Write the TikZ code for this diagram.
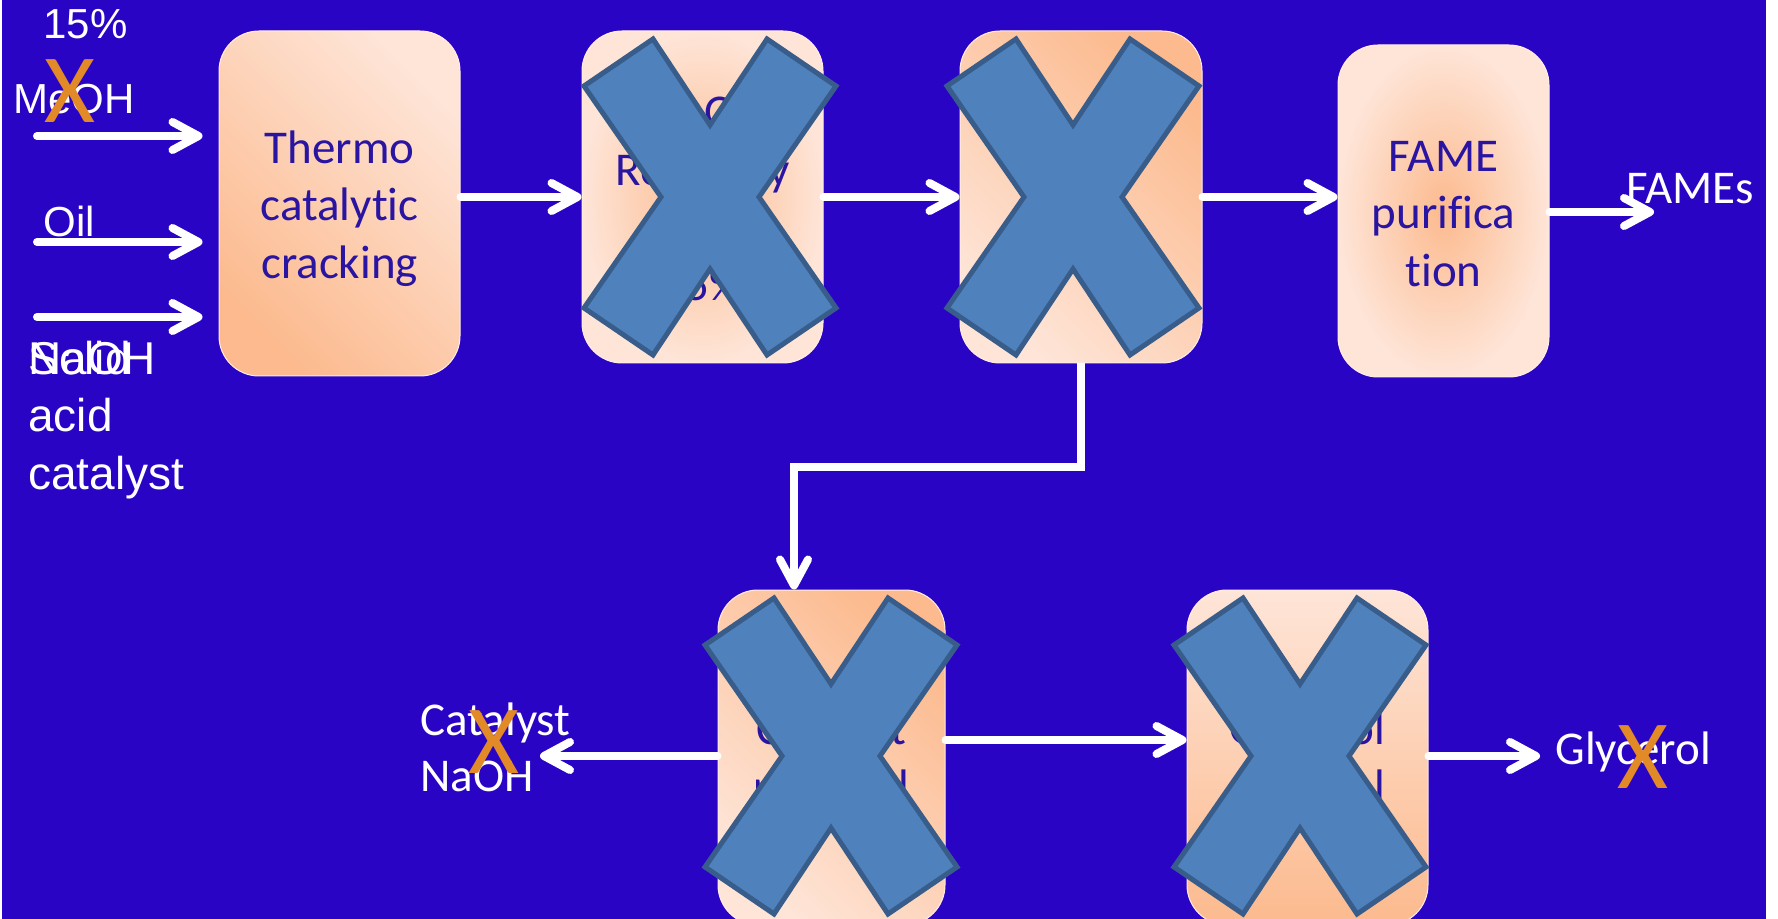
\documentclass[tikz,border=0pt]{standalone}
\usepackage{fontspec}
\setmainfont{Carlito}[Ligatures=NoCommon]
\newfontfamily\arialf{Liberation Sans}
\usetikzlibrary{arrows.meta}
\definecolor{bg}{HTML}{2A04C4}
\definecolor{pklight}{HTML}{FEE5D8}
\definecolor{pkdark}{HTML}{FCBA8E}
\definecolor{boxtxt}{HTML}{2A14A2}
\definecolor{xfill}{HTML}{4F81BD}
\definecolor{xline}{HTML}{385D8A}
\definecolor{xorange}{HTML}{E38A28}
\tikzset{
  procbox/.style={rounded corners=20pt, draw=pklight!70!white, line width=0.5pt, inner sep=0pt},
  boxtext/.style={text=boxtxt, font=\fontsize{23.5}{28.7}\selectfont, align=center, inner sep=0pt},
  arr/.style={draw=white, line width=4pt, line cap=round,
    -{Straight Barb[length=13pt,width=14pt,round]}},
  armlabel/.style={text=white, font=\arialf\fontsize{21}{25}\selectfont, anchor=base west, inner sep=0pt},
  armlabelb/.style={text=white, font=\arialf\fontsize{23}{28}\selectfont, anchor=base west, inner sep=0pt},
  calabel/.style={text=white, font=\fontsize{23.5}{28.7}\selectfont, anchor=base west, inner sep=0pt},
  orx/.style={text=xorange, font=\fontsize{49}{50}\selectfont, anchor=base, inner sep=0pt},
  crossx/.style={fill=xfill, draw=xline, line width=2.5pt, line join=miter},
}
\newcommand\bluecross[1]{\path[crossx, shift={#1}] (-126,-111) -- (-57,-158) -- (0,-72) -- (57,-158) -- (126,-111) -- (49,0) -- (126,111) -- (57,158) -- (0,72) -- (-57,158) -- (-126,111) -- (-49,0) -- cycle;}
\begin{document}
\begin{tikzpicture}[x=0.5pt,y=-0.5pt]
\useasboundingbox (0,0) rectangle (1778,919);
\fill[white] (0,0) rectangle (1778,919);
\fill[bg] (2,0) rectangle (1766,919);

% process boxes
\node[procbox, minimum width=120.5pt, minimum height=172.5pt,
  top color=pklight, bottom color=pkdark, shading angle=-45] (b1) at (339.5,203.5) {};
\node[procbox, minimum width=120.5pt, minimum height=166pt,
  inner color=pkdark, outer color=pklight] (b2) at (702.5,197) {};
\node[procbox, minimum width=121pt, minimum height=166pt,
  top color=pkdark, bottom color=pklight, shading angle=-45] (b3) at (1081,197) {};
\node[procbox, minimum width=105.5pt, minimum height=166pt,
  inner color=pkdark, outer color=pklight] (b4) at (1443.5,211) {};
\node[procbox, minimum width=113.5pt, minimum height=167.5pt,
  top color=pkdark, bottom color=pklight, shading angle=-45] (b5) at (831.5,757.5) {};
\node[procbox, minimum width=120.5pt, minimum height=167.5pt,
  top color=pklight, bottom color=pkdark] (b6) at (1307.5,757.5) {};

% box texts
\node[boxtext] (b1t) at ([yshift=-2.5pt]b1.center) {Thermo\\catalytic\\cracking};
\node[boxtext] (b2t) at ([yshift=-1pt]b2.center) {MeOH\\Recovery\\\\95\%};
\node[boxtext] (b4t) at ([yshift=-1.5pt]b4.center) {FAME\\purifica\\tion};
\node[boxtext] (b5t) at (b5.center) {Catalyst\\removal};
\node[boxtext] (b6t) at (b6.center) {Glycerol\\removal};

% input labels
\node[armlabel] (t15) at (43,39) {15\%};
\node[armlabel] (tmeoh) at (13,114) {MeOH};
\node[armlabel] (toil) at (43,237) {Oil};
\node[armlabelb] (tnaoh) at (28,375) {NaOH};
\node[armlabelb] (tsolid) at (28,375) {Solid};
\node[armlabelb] (tacid) at (28,432) {acid};
\node[armlabelb] (tcat) at (28,490) {catalyst};

% output labels
\node[calabel] (tfames) at (1626,204) {FAMEs};
\node[calabel] (tcata) at (420,735) {Catalyst};
\node[calabel] (tcatb) at (420,791) {NaOH};
\node[calabel] (tgly) at (1555,764) {Glycerol};

% coordinates
\coordinate (i1) at (37,136);
\coordinate (i2) at (37,242);
\coordinate (i3) at (37,317);
\coordinate (fe) at (1654,212);
\coordinate (c1) at (794,467);
\coordinate (ce) at (540,756);
\coordinate (m) at (0,740);
\coordinate (ge) at (1540,756);

% connectors
\draw[arr, shorten >=8pt] (i1) -- (i1 -| b1.west);
\draw[arr, shorten >=8pt] (i2) -- (i2 -| b1.west);
\draw[arr, shorten >=8pt] (i3) -- (i3 -| b1.west);
\draw[arr] (b1.east |- b2.west) -- (b2.west);
\draw[arr] (b2.east) -- (b3.west);
\draw[arr] (b3.east) -- (b3.east -| b4.west);
\draw[arr] (b4.east |- fe) -- (fe);
\draw[arr, line cap=butt] (b3.south) |- (c1) -- (c1 |- b5.north);
\draw[arr] (b5.west |- ce) -- (ce);
\draw[arr] (b5.east |- m) -- (b6.west |- m);
\draw[arr] (b6.east |- ge) -- (ge);

% crossing marks
\bluecross{(710,197)}
\bluecross{(1073,197)}
\bluecross{(831,756)}
\bluecross{(1300,756)}
\node[orx] (x1) at (70,123) {X};
\node[orx] (x2) at (494,773) {X};
\node[orx] (x3) at (1643,788) {X};
\end{tikzpicture}
\end{document}
